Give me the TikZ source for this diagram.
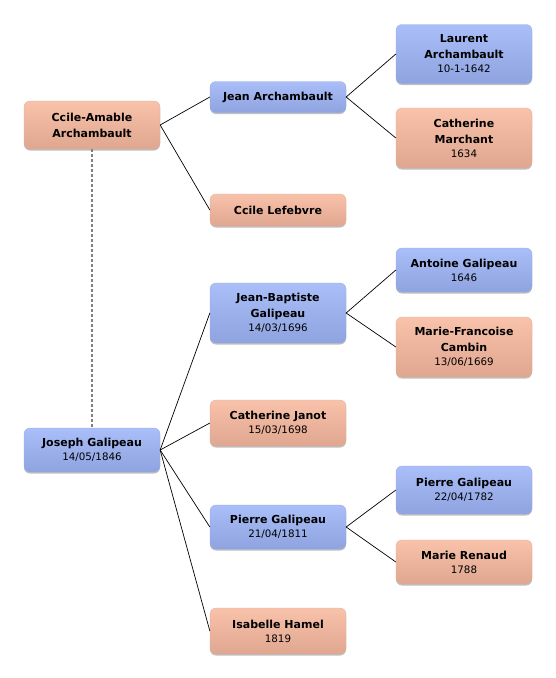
\documentclass[tikz,border=0pt]{standalone}
\usepackage{fontspec}
\setmainfont{DejaVu Sans}
\usetikzlibrary{shadows}
\definecolor{btop}{HTML}{AABFF9}
\definecolor{bbot}{HTML}{8EA3DF}
\definecolor{stop}{HTML}{F9C2AA}
\definecolor{sbot}{HTML}{DFA690}
\tikzset{
  person/.style={rounded corners=6pt, minimum width=136pt, inner sep=2pt, align=center,
    font=\fontsize{11}{16}\selectfont\bfseries,
    drop shadow={shadow xshift=0pt, shadow yshift=-1.5pt, opacity=0.25, fill=black}},
  male/.style={person, top color=btop, bottom color=bbot, draw=bbot!90!white, line width=0.3pt},
  female/.style={person, top color=stop, bottom color=sbot, draw=sbot!90!white, line width=0.3pt},
  link/.style={draw=black, line width=0.7pt},
  spouse/.style={draw=gray, line width=1.3pt, dash pattern=on 2.5pt off 2.5pt}
}
\newcommand{\dt}[1]{\\[-2pt]{\fontsize{10.3}{12}\selectfont\mdseries #1}}
\begin{document}
\begin{tikzpicture}[x=1pt,y=-1pt]
\useasboundingbox (0,0) rectangle (556,678);
\fill[white] (0,0) rectangle (556,678);
\node[female, minimum height=48pt] (ca) at (92,125) {Ccile-Amable\\Archambault};
\node[male, minimum height=31pt] (ja) at (278,97) {Jean Archambault};
\node[male, minimum height=59pt] (la) at (464,54) {Laurent\\Archambault\dt{10-1-1642}};
\node[female, minimum height=60pt] (cm) at (464,138) {Catherine\\Marchant\dt{1634}};
\node[female, minimum height=32pt] (cl) at (278,210) {Ccile Lefebvre};
\node[male, minimum height=60pt] (jb) at (278,313) {Jean-Baptiste\\Galipeau\dt{14/03/1696}};
\node[male, minimum height=44pt] (ag) at (464,270) {Antoine Galipeau\dt{1646}};
\node[female, minimum height=60pt] (mf) at (464,347) {Marie-Francoise\\Cambin\dt{13/06/1669}};
\node[male, minimum height=44pt] (jg) at (92,450) {Joseph Galipeau\dt{14/05/1846}};
\node[female, minimum height=46pt] (cj) at (278,423) {Catherine Janot\dt{15/03/1698}};
\node[male, minimum height=44pt] (pg) at (278,527) {Pierre Galipeau\dt{21/04/1811}};
\node[male, minimum height=48pt] (pg2) at (464,490) {Pierre Galipeau\dt{22/04/1782}};
\node[female, minimum height=44pt] (mr) at (464,562) {Marie Renaud\dt{1788}};
\node[female, minimum height=46pt] (ih) at (278,631) {Isabelle Hamel\dt{1819}};
\draw[spouse] (ca.south) -- (jg.north);
\draw[link] (ca.east) -- (ja.west);
\draw[link] (ca.east) -- (cl.west);
\draw[link] (ja.east) -- (la.west);
\draw[link] (ja.east) -- (cm.west);
\draw[link] (jg.east) -- (jb.west);
\draw[link] (jg.east) -- (cj.west);
\draw[link] (jg.east) -- (pg.west);
\draw[link] (jg.east) -- (ih.west);
\draw[link] (jb.east) -- (ag.west);
\draw[link] (jb.east) -- (mf.west);
\draw[link] (pg.east) -- (pg2.west);
\draw[link] (pg.east) -- (mr.west);
\end{tikzpicture}
\end{document}
